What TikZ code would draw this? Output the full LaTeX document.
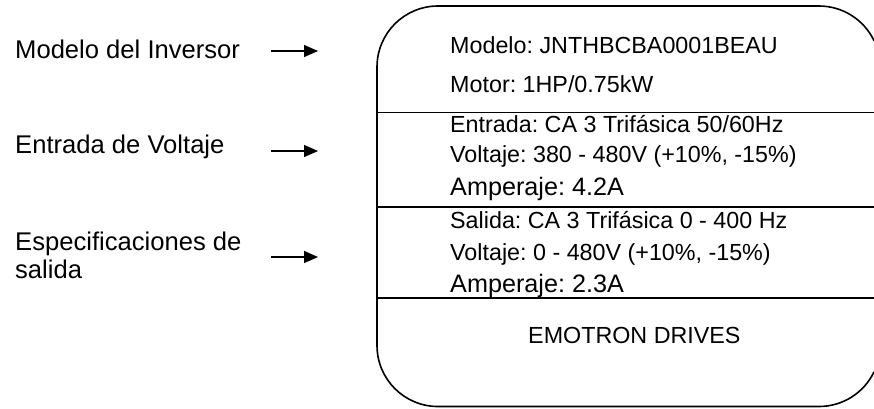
\documentclass[tikz,border=0pt]{standalone}
\usepackage{fontspec}
\setmainfont{Liberation Sans}
\usetikzlibrary{arrows.meta}
\frenchspacing
\tikzset{
  boxtxt/.style={anchor=base west, inner sep=0pt, font=\fontsize{23.3}{28}\selectfont},
  amptxt/.style={anchor=base west, inner sep=0pt, font=\fontsize{25.2}{30}\selectfont},
  lefttxt/.style={anchor=base west, inner sep=0pt, align=left, font=\fontsize{25.6}{28}\selectfont},
  arr/.style={line width=1.3pt, -{Triangle[length=14pt,width=12pt]}},
  frame/.style={line width=1.6pt},
  divider/.style={line width=1.4pt}
}
\begin{document}
\frenchspacing
\begin{tikzpicture}[x=1pt,y=-1pt]
\useasboundingbox (0,0) rectangle (874,408);
\clip (0,0) rectangle (874,408);
% outer label frame (its right side runs past the picture edge)
\draw[frame] (819,67) ++(-25.6:61) arc[start angle=-25.6, end angle=-90, radius=61]
  -- (438,6) arc[start angle=-90, end angle=-180, radius=61]
  -- (377,345.5) arc[start angle=180, end angle=90, radius=61]
  -- (819,406.5) arc[start angle=90, end angle=25.6, radius=61];
\coordinate (d1l) at (377,112.5); \coordinate (d1r) at (876,112.5);
\coordinate (d2l) at (377,207); \coordinate (d2r) at (876,207);
\coordinate (d3l) at (377,298); \coordinate (d3r) at (876,298);
\draw[divider] (d1l) -- (d1r);
\draw[divider] (d2l) -- (d2r);
\draw[divider] (d3l) -- (d3r);
% box texts
\node[boxtxt] (t1) at (450,53) {Modelo: JNTHBCBA0001BEAU};
\node[boxtxt] (t2) at (450,92) {Motor: 1HP/0.75kW};
\node[boxtxt] (t3) at (450,132) {Entrada: CA 3 Trifásica 50/60Hz};
\node[boxtxt] (t4) at (450,162) {Voltaje: 380 - 480V (+10\%, -15\%)};
\node[amptxt] (t5) at (450,195) {Amperaje: 4.2A};
\node[boxtxt] (t6) at (450,228) {Salida: CA 3 Trifásica 0 - 400 Hz};
\node[boxtxt] (t7) at (450,260) {Voltaje: 0 - 480V (+10\%, -15\%)};
\node[amptxt] (t8) at (450,292) {Amperaje: 2.3A};
\node[boxtxt] (t9) at (528,343) {EMOTRON DRIVES};
% left labels
\node[lefttxt] (l1) at (15,58) {Modelo del Inversor};
\node[lefttxt] (l2) at (15,153) {Entrada de Voltaje};
\node[lefttxt] (l3) at (15,278) {Especificaciones de\\salida};
% arrows
\coordinate (a1s) at (271,51); \coordinate (a1e) at (318,51);
\coordinate (a2s) at (271,151); \coordinate (a2e) at (318,151);
\coordinate (a3s) at (271,257); \coordinate (a3e) at (318,257);
\draw[arr] (a1s) -- (a1e);
\draw[arr] (a2s) -- (a2e);
\draw[arr] (a3s) -- (a3e);
\end{tikzpicture}
\end{document}
